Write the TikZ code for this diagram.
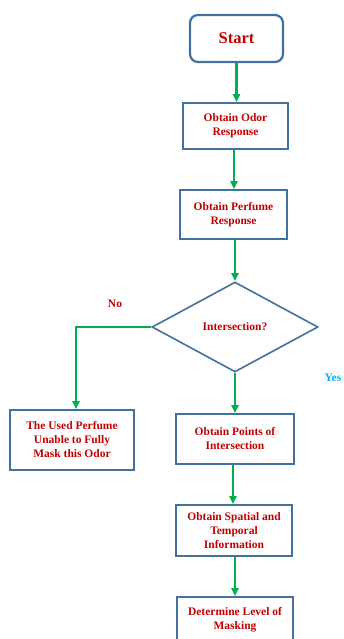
\documentclass[tikz,border=0pt]{standalone}
\usepackage{fontspec}
\setmainfont{Liberation Serif}
\usepackage{tikz}
\usetikzlibrary{shapes.geometric, arrows.meta}
\definecolor{boxblue}{RGB}{65, 113, 156}
\definecolor{txtred}{RGB}{192, 0, 0}
\definecolor{flowgreen}{RGB}{0, 176, 80}
\definecolor{yesblue}{RGB}{0, 176, 240}
\tikzset{
  stepbox/.style={draw=boxblue, line width=1.6pt, fill=white, inner sep=0pt, align=center,
    text=txtred, font=\bfseries\fontsize{11.5}{14}\selectfont},
  flow/.style={-{Triangle[length=8pt, width=7pt]}, flowgreen, line width=2.4pt},
  answer/.style={font=\bfseries\fontsize{11.5}{14}\selectfont},
}

\begin{document}
\begin{tikzpicture}[x=1pt, y=-1pt]
        \useasboundingbox (0,0) rectangle (344,639);

        % Main column
        \node[stepbox, rounded corners=8pt, line width=2.2pt, minimum width=93pt, minimum height=47pt,
          font=\bfseries\fontsize{16.5}{20}\selectfont] (start) at (236.5,38.5) {Start};
        \node[stepbox, minimum width=105pt, minimum height=46pt] (odor) at (235.5,126) {Obtain Odor\\Response};
        \node[stepbox, minimum width=107pt, minimum height=49pt] (perfume) at (233.5,214.5) {Obtain Perfume\\Response};
        \node[stepbox, diamond, minimum width=166pt, minimum height=90pt] (decide) at (235,327) {Intersection?};
        \node[stepbox, minimum width=118pt, minimum height=50pt] (points) at (235,439) {Obtain Points of\\Intersection};
        \node[stepbox, minimum width=116pt, minimum height=51pt] (spatial) at (234,530.5) {Obtain Spatial and\\Temporal\\Information};
        \node[stepbox, minimum width=116pt, minimum height=46pt] (masking) at (235,620) {Determine Level of\\Masking};

        % Side branch
        \node[stepbox, minimum width=124pt, minimum height=60pt] (fail) at (72,440) {The Used Perfume\\Unable to Fully\\Mask this Odor};

        % Labels
        \node[answer, text=txtred] (nolabel) at (115,304) {No};
        \node[answer, text=yesblue] (yeslabel) at (333,378) {Yes};

        % Arrows
        \draw[flow] (start.south) -- (start.south |- odor.north);
        \draw[flow] ([xshift=-1.5pt]odor.south) -- ([xshift=-1.5pt]odor.south |- perfume.north);
        \draw[flow] ([xshift=1.5pt]perfume.south) -- ([xshift=1.5pt]perfume.south |- decide.north);
        \draw[flow] (decide.south) -- (decide.south |- points.north);
        \draw[flow] ([xshift=-2pt]points.south) -- ([xshift=-2pt]points.south |- spatial.north);
        \draw[flow] ([xshift=1pt]spatial.south) -- ([xshift=1pt]spatial.south |- masking.north);
        \draw[flow] (decide.west) -| ([xshift=4pt]fail.north);
    \end{tikzpicture}
\end{document}
